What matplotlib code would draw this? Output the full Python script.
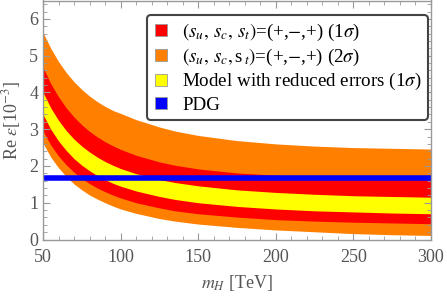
import matplotlib
matplotlib.use("Agg")
import matplotlib.pyplot as plt
from matplotlib.lines import Line2D
from matplotlib.ticker import MultipleLocator

plt.rcParams['font.family'] = ['Liberation Serif', 'DejaVu Serif']
plt.rcParams['mathtext.fontset'] = 'stix'

# m_H [TeV]
mH = [50, 55, 60, 65, 70, 75, 80, 85, 90, 95, 100, 110, 125, 135, 150, 175, 200, 225, 250, 275, 300]
# 2 sigma band (orange)
orange_top = [5.63, 5.20, 4.84, 4.54, 4.29, 4.08, 3.90, 3.75, 3.62, 3.51, 3.43, 3.26, 3.06, 2.95, 2.83,
              2.69, 2.60, 2.54, 2.50, 2.48, 2.46]
orange_bot = [2.62, 2.24, 1.95, 1.71, 1.51, 1.35, 1.21, 1.10, 1.00, 0.91, 0.83, 0.71, 0.57, 0.50, 0.42,
              0.33, 0.26, 0.21, 0.16, 0.13, 0.11]
# 1 sigma band (red)
red_top = [4.68, 4.24, 3.88, 3.58, 3.33, 3.12, 2.94, 2.79, 2.66, 2.55, 2.45, 2.29, 2.11, 2.02, 1.92,
           1.81, 1.75, 1.71, 1.69, 1.67, 1.66]
red_bot = [2.95, 2.57, 2.27, 2.03, 1.83, 1.66, 1.52, 1.40, 1.30, 1.21, 1.13, 1.00, 0.86, 0.78, 0.70,
           0.61, 0.54, 0.50, 0.47, 0.45, 0.43]
# reduced errors band (yellow)
yel_top = [4.00, 3.58, 3.24, 2.96, 2.73, 2.54, 2.38, 2.24, 2.12, 2.02, 1.93, 1.79, 1.63, 1.55, 1.46,
           1.35, 1.28, 1.23, 1.19, 1.17, 1.15]
yel_bot = [3.40, 3.00, 2.68, 2.42, 2.20, 2.02, 1.87, 1.74, 1.63, 1.53, 1.45, 1.32, 1.17, 1.09, 1.00,
           0.90, 0.83, 0.78, 0.75, 0.72, 0.70]
# PDG value
pdg = 1.66

labels = [r"$(s_u,\,s_c,\,s_t)$=(+,$-$,+) (1$\sigma$)",
          r"$(s_u,\,s_c,$s$_{\,t})$=(+,$-$,+) (2$\sigma$)",
          r"Model with reduced errors (1$\sigma$)",
          r"PDG"]

fig = plt.figure(figsize=(4.47, 2.97), dpi=100)
ax = fig.add_axes([43/447, (297-239.5)/297, (431-43)/447, 239/297])

ax.fill_between(mH, orange_bot, orange_top, color=(1, 0.5, 0), lw=0)
ax.fill_between(mH, red_bot, red_top, color=(1, 0, 0), lw=0)
ax.fill_between(mH, yel_bot, yel_top, color=(1, 1, 0), lw=0)
ax.axhline(pdg, color=(0, 0, 1), lw=4)

ax.set_xlim(50, 300)
ax.set_ylim(0, 6.5)
ax.xaxis.set_major_locator(MultipleLocator(50))
ax.xaxis.set_minor_locator(MultipleLocator(10))
ax.yaxis.set_major_locator(MultipleLocator(1))
ax.yaxis.set_minor_locator(MultipleLocator(0.2))
ax.tick_params(which='both', direction='in', top=True, right=True, color='#999999',
               labelcolor='#555555', labelsize=13)
ax.tick_params(axis='x', which='major', pad=7)
ax.tick_params(which='major', length=5, width=0.8)
ax.tick_params(which='minor', length=3, width=0.6)
for s in ax.spines.values():
    s.set_color('#999999')
    s.set_linewidth(1.0)

ax.set_xlabel(r"$m_H$ [TeV]", fontsize=13, color='#555555', labelpad=5)
ax.set_ylabel(r"Re $\epsilon$[10$^{-3}$]", fontsize=13, color='#555555', labelpad=4)

cols = [(1, 0, 0), (1, 0.5, 0), (1, 1, 0), (0, 0, 1)]
handles = [Line2D([], [], marker='s', ls='none', markersize=8, markerfacecolor=c,
                  markeredgecolor='#999999', markeredgewidth=0.6) for c in cols]
leg = ax.legend(handles, labels, loc='upper right', bbox_to_anchor=(0.993, 0.94),
                fontsize=13.7, frameon=True, fancybox=True, handlelength=0.8,
                handletextpad=0.7, labelspacing=0.2, borderpad=0.35, borderaxespad=0.0)
leg.get_frame().set_edgecolor('#444444')
leg.get_frame().set_linewidth(1.5)
leg.get_frame().set_alpha(1)

fig.savefig("out.png", dpi=100)
